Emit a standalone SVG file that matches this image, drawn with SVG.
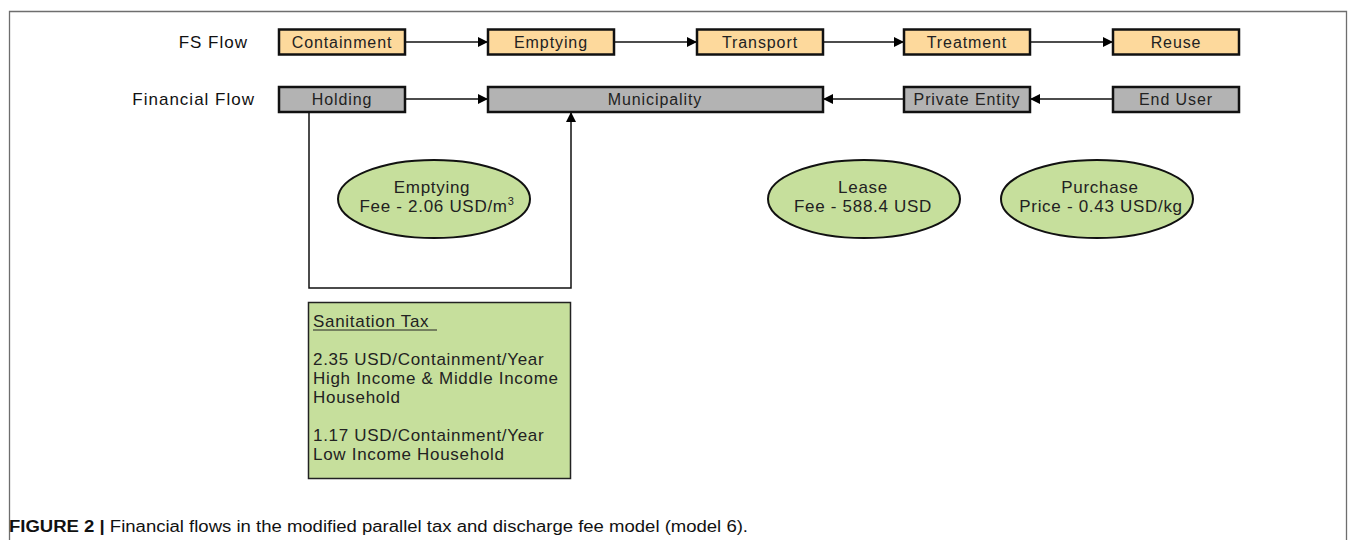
<svg xmlns="http://www.w3.org/2000/svg" width="1355" height="540" viewBox="0 0 1355 540">
<style>
.frame{fill:none;stroke:#6e6e6e;stroke-width:1.3}
.fs{fill:#fdd99c;stroke:#111;stroke-width:2.5}
.fin{fill:#b3b3b3;stroke:#111;stroke-width:2.5}
.ell{fill:#c6df9c;stroke:#111;stroke-width:2}
.tax{fill:#c6df9c;stroke:#222;stroke-width:1.5}
.t{font-family:"Liberation Sans",Arial,sans-serif;font-size:16px;fill:#222;letter-spacing:0.9px}
.e{font-family:"Liberation Sans",Arial,sans-serif;font-size:17px;fill:#222;letter-spacing:0.7px;text-anchor:middle}
.s{font-family:"Liberation Sans",Arial,sans-serif;font-size:17px;fill:#222;letter-spacing:0.7px}
.c{text-anchor:middle}
.lab{font-family:"Liberation Sans",Arial,sans-serif;font-size:17px;fill:#111;letter-spacing:1px;text-anchor:end}
.conn{fill:none;stroke:#111;stroke-width:1.5}
.cap{font-family:"Liberation Sans Narrow","Liberation Sans",Arial,sans-serif;font-size:16px;fill:#111}
</style>
<defs>
<marker id="ah" viewBox="0 0 10 10" refX="10" refY="5" markerWidth="10" markerHeight="11" markerUnits="userSpaceOnUse" orient="auto">
<path d="M0,0 L10,5 L0,10 Z" fill="#000"/>
</marker>
</defs>
<rect width="1355" height="540" fill="#fff"/>
<path class="frame" d="M9.5,541 V11.5 H1346.5 V541"/>

<text class="lab" x="248" y="48">FS Flow</text>
<text class="lab" x="255" y="105">Financial Flow</text>

<g id="connectors">
<line class="conn" x1="405" y1="42" x2="488" y2="42" marker-end="url(#ah)"/>
<line class="conn" x1="614" y1="42" x2="697" y2="42" marker-end="url(#ah)"/>
<line class="conn" x1="823" y1="42" x2="904" y2="42" marker-end="url(#ah)"/>
<line class="conn" x1="1030" y1="42" x2="1113" y2="42" marker-end="url(#ah)"/>
<line class="conn" x1="405" y1="99" x2="488" y2="99" marker-end="url(#ah)"/>
<line class="conn" x1="904" y1="99" x2="823" y2="99" marker-end="url(#ah)"/>
<line class="conn" x1="1113" y1="99" x2="1030" y2="99" marker-end="url(#ah)"/>
<polyline class="conn" points="309,112 309,288 571,288 571,112" marker-end="url(#ah)"/>
</g>

<g id="containment"><rect class="fs" x="279" y="29.5" width="126" height="25"/><text class="t c" x="342" y="47.5">Containment</text></g>
<g id="emptying"><rect class="fs" x="488" y="29.5" width="126" height="25"/><text class="t c" x="551" y="47.5">Emptying</text></g>
<g id="transport"><rect class="fs" x="697" y="29.5" width="126" height="25"/><text class="t c" x="760" y="47.5">Transport</text></g>
<g id="treatment"><rect class="fs" x="904" y="29.5" width="126" height="25"/><text class="t c" x="967" y="47.5">Treatment</text></g>
<g id="reuse"><rect class="fs" x="1113" y="29.5" width="126" height="25"/><text class="t c" x="1176" y="47.5">Reuse</text></g>

<g id="holding"><rect class="fin" x="279" y="87" width="126" height="25"/><text class="t c" x="342" y="105">Holding</text></g>
<g id="municipality"><rect class="fin" x="488" y="87" width="335" height="25"/><text class="t c" x="655" y="105">Municipality</text></g>
<g id="private-entity"><rect class="fin" x="904" y="87" width="126" height="25"/><text class="t c" x="967" y="105">Private Entity</text></g>
<g id="end-user"><rect class="fin" x="1113" y="87" width="126" height="25"/><text class="t c" x="1176" y="105">End User</text></g>

<g id="emptying-fee"><ellipse class="ell" cx="434" cy="199" rx="96" ry="39"/>
<text class="e" x="432" y="193">Emptying</text>
<text class="e" x="437" y="212">Fee - 2.06 USD/m<tspan dy="-7" font-size="11">3</tspan></text></g>
<g id="lease-fee"><ellipse class="ell" cx="864" cy="199" rx="96" ry="39"/>
<text class="e" x="863" y="193">Lease</text>
<text class="e" x="863" y="212">Fee - 588.4 USD</text></g>
<g id="purchase-price"><ellipse class="ell" cx="1097" cy="199" rx="96" ry="39"/>
<text class="e" x="1100" y="193">Purchase</text>
<text class="e" x="1101" y="212">Price - 0.43 USD/kg</text></g>

<g id="sanitation-tax"><rect class="tax" x="308.5" y="302.5" width="262" height="176"/>
<text class="s" x="313" y="327">Sanitation Tax </text>
<line x1="313" y1="330" x2="437" y2="330" stroke="#222" stroke-width="1.2"/>
<text class="s" x="313" y="365">2.35 USD/Containment/Year</text>
<text class="s" x="313" y="384">High Income &amp; Middle Income</text>
<text class="s" x="313" y="403">Household</text>
<text class="s" x="313" y="441">1.17 USD/Containment/Year</text>
<text class="s" x="313" y="460">Low Income Household</text>
</g>

<text class="cap" x="9" y="532" textLength="739" lengthAdjust="spacingAndGlyphs"><tspan font-weight="bold">FIGURE 2 |</tspan> Financial flows in the modified parallel tax and discharge fee model (model 6).</text>
</svg>
